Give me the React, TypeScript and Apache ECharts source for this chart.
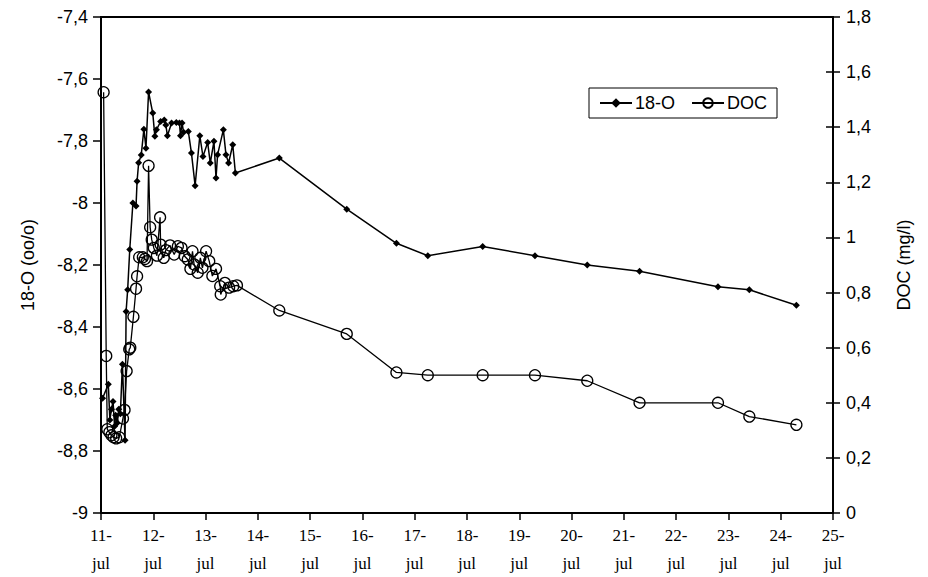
import React, { useEffect, useRef } from "react";
import * as echarts from "echarts";

// 18-O series (day of July, value in oo/o)
const o18Days = [
  11.03, 11.14, 11.17, 11.2, 11.23, 11.26, 11.28, 11.31, 11.34, 11.37, 11.41, 11.46,
  11.48, 11.51, 11.55, 11.61, 11.67, 11.69, 11.72, 11.77, 11.82, 11.86, 11.91, 11.99,
  12.03, 12.06, 12.14, 12.21, 12.24, 12.27, 12.35, 12.44, 12.5, 12.52, 12.55, 12.58,
  12.67, 12.73, 12.8, 12.89, 12.95, 13.04, 13.09, 13.16, 13.2, 13.23, 13.34, 13.39,
  13.44, 13.52, 13.57, 14.41, 15.7, 16.65, 17.25, 18.3, 19.3, 20.3, 21.3, 22.8, 23.4, 24.3,
];
const o18Values = [
  -8.63, -8.585, -8.7, -8.665, -8.64, -8.72, -8.685, -8.71, -8.665, -8.68, -8.52, -8.765,
  -8.35, -8.28, -8.15, -8.0, -8.01, -7.93, -7.87, -7.845, -7.762, -7.823, -7.642, -7.71,
  -7.785, -7.764, -7.737, -7.732, -7.748, -7.783, -7.742, -7.74, -7.742, -7.783, -7.742, -7.772,
  -7.769, -7.839, -7.944, -7.783, -7.85, -7.805, -7.871, -7.801, -7.919, -7.844, -7.764, -7.844,
  -7.871, -7.812, -7.903, -7.855, -8.02, -8.13, -8.17, -8.14, -8.17, -8.2, -8.22, -8.27, -8.28, -8.33,
];

// DOC series (day of July, value in mg/l)
const docDays = [
  11.05, 11.1, 11.12, 11.16, 11.2, 11.24, 11.29, 11.35, 11.42, 11.45, 11.49, 11.54,
  11.56, 11.62, 11.67, 11.69, 11.73, 11.8, 11.84, 11.88, 11.91, 11.94, 11.97, 12.01,
  12.07, 12.13, 12.14, 12.2, 12.24, 12.32, 12.4, 12.47, 12.54, 12.6, 12.66, 12.71,
  12.75, 12.78, 12.85, 12.9, 12.94, 13.01, 13.07, 13.13, 13.2, 13.28, 13.29, 13.37,
  13.45, 13.53, 13.6, 14.41, 15.7, 16.65, 17.25, 18.3, 19.3, 20.3, 21.3, 22.8, 23.4, 24.3,
];
const docValues = [
  1.527, 0.57, 0.304, 0.293, 0.282, 0.275, 0.271, 0.275, 0.343, 0.374, 0.515, 0.594,
  0.6, 0.712, 0.814, 0.859, 0.928, 0.928, 0.922, 0.914, 1.26, 1.037, 0.992, 0.962,
  0.934, 1.073, 0.974, 0.926, 0.954, 0.971, 0.938, 0.968, 0.962, 0.932, 0.92, 0.886,
  0.95, 0.902, 0.872, 0.926, 0.89, 0.95, 0.914, 0.86, 0.886, 0.823, 0.793, 0.835,
  0.818, 0.823, 0.826, 0.735, 0.65, 0.51, 0.5, 0.5, 0.5, 0.48, 0.4, 0.4, 0.35, 0.32,
];

const leftTicks = { min: -9, max: -7.4, interval: 0.2 };
const rightTicks = { min: 0, max: 1.8, interval: 0.2 };
const xTicks = { min: 11, max: 25, interval: 1 };
const monthLabel = "jul";

const fmtComma = (v: number) => String(Number(v.toFixed(1))).replace(".", ",");

export default function App() {
  const ref = useRef<HTMLDivElement>(null);
  useEffect(() => {
    if (!ref.current) return;
    const chart = echarts.init(ref.current, undefined, { renderer: "svg" });
    const sans = "Liberation Sans, Arial, sans-serif";
    const serif = "Liberation Serif, Times New Roman, serif";
    chart.setOption({
      animation: false,
      backgroundColor: "#fff",
      grid: {
        left: 101,
        right: 95,
        top: 17,
        bottom: 63,
        show: true,
        borderColor: "#000",
        borderWidth: 2,
      },
      legend: {
        left: 589,
        top: 88,
        padding: [6, 10, 6, 10],
        borderColor: "#000",
        borderWidth: 1,
        backgroundColor: "#fff",
        itemWidth: 32,
        itemHeight: 12,
        itemGap: 16,
        textStyle: { fontFamily: sans, fontSize: 18, color: "#000", padding: [0, 0, 0, -2] },
        data: ["18-O", "DOC"],
      },
      xAxis: {
        type: "value",
        min: xTicks.min,
        max: xTicks.max,
        interval: xTicks.interval,
        splitLine: { show: false },
        axisLine: { lineStyle: { color: "#000", width: 2 } },
        axisTick: { show: true, inside: false, length: 7, lineStyle: { color: "#000", width: 1.5 } },
        axisLabel: {
          formatter: (v: number) => `${v}-\n${monthLabel}`,
          fontFamily: serif,
          fontSize: 17,
          lineHeight: 28,
          color: "#000",
          margin: 8,
        },
      },
      yAxis: [
        {
          type: "value",
          position: "left",
          min: leftTicks.min,
          max: leftTicks.max,
          interval: leftTicks.interval,
          name: "18-O (oo/o)",
          nameLocation: "middle",
          nameGap: 64,
          nameRotate: 90,
          nameTextStyle: { fontFamily: sans, fontSize: 18, color: "#000" },
          splitLine: { show: false },
          axisLine: { show: true, lineStyle: { color: "#000", width: 2 } },
          axisTick: { show: true, inside: false, length: 8, lineStyle: { color: "#000", width: 1.5 } },
          axisLabel: { formatter: fmtComma, fontFamily: sans, fontSize: 18, color: "#000", margin: 13 },
        },
        {
          type: "value",
          position: "right",
          min: rightTicks.min,
          max: rightTicks.max,
          interval: rightTicks.interval,
          name: "DOC (mg/l)",
          nameLocation: "middle",
          nameGap: 62,
          nameRotate: 90,
          nameTextStyle: { fontFamily: sans, fontSize: 18, color: "#000" },
          splitLine: { show: false },
          axisLine: { show: true, lineStyle: { color: "#000", width: 2 } },
          axisTick: { show: true, inside: false, length: 7, lineStyle: { color: "#000", width: 1.5 } },
          axisLabel: { formatter: fmtComma, fontFamily: sans, fontSize: 18, color: "#000", margin: 13 },
        },
        {
          type: "value",
          position: "right",
          min: rightTicks.min,
          max: rightTicks.max,
          interval: rightTicks.interval,
          splitLine: { show: false },
          axisLine: { show: false },
          axisTick: { show: true, inside: true, length: 7, lineStyle: { color: "#000", width: 1.5 } },
          axisLabel: { show: false },
        },
      ],
      series: [
        {
          name: "18-O",
          type: "line",
          yAxisIndex: 0,
          data: o18Days.map((d, i) => [d, o18Values[i]]),
          symbol: "diamond",
          symbolSize: 7,
          lineStyle: { color: "#000", width: 1.5 },
          itemStyle: { color: "#000" },
          z: 3,
        },
        {
          name: "DOC",
          type: "line",
          yAxisIndex: 1,
          data: docDays.map((d, i) => [d, docValues[i]]),
          symbol: "circle",
          symbolSize: 11,
          lineStyle: { color: "#000", width: 1.3 },
          itemStyle: { color: "rgba(255,255,255,0)", borderColor: "#000", borderWidth: 1.3 },
          z: 2,
        },
      ],
    });
    return () => chart.dispose();
  }, []);
  return <div ref={ref} style={{ width: 928, height: 577, marginLeft: -8, marginTop: -8 }} />;
}
